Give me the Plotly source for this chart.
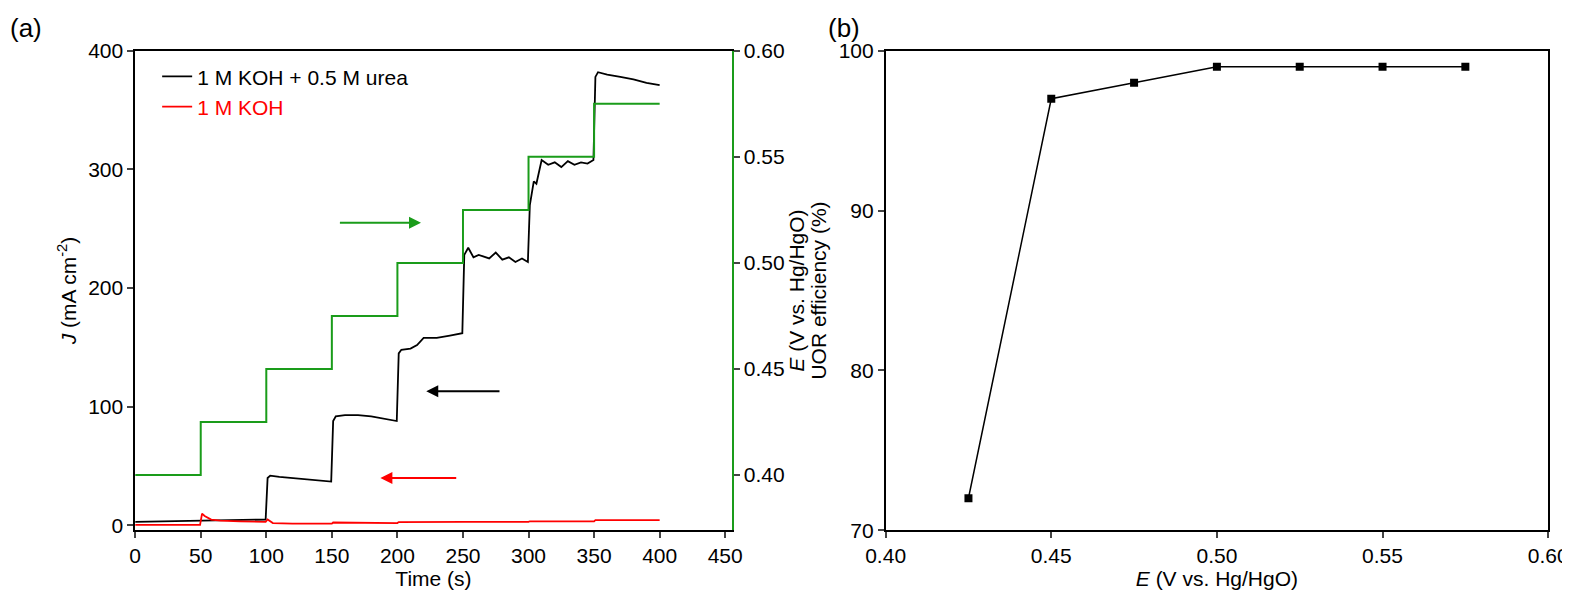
import plotly.graph_objects as go

# panel (a) data
t_urea = [0, 20, 40, 60, 80, 99.5, 101, 103, 110, 120, 130, 140, 149.5, 151, 153, 160, 170, 180, 190, 199.5, 201, 203, 210, 215, 220, 230, 240, 249.5,
          251, 254, 258, 262, 270, 275, 280, 285, 290, 295, 299.5, 301, 304, 306, 310, 315, 320, 325, 330, 335, 340, 345, 349.5, 351, 353, 360, 370, 380, 390, 400]
j_urea = [3, 3.5, 4, 4, 4.5, 5, 40, 42, 41, 40, 39, 38, 37, 88, 92, 93, 93, 92, 90, 88, 145, 148, 149, 152, 158, 158, 160, 162,
          228, 234, 226, 228, 225, 230, 224, 226, 222, 225, 222, 270, 290, 288, 308, 304, 306, 302, 307, 304, 306, 305, 308, 378, 382, 380, 378, 376, 373, 371]
t_koh = [0, 49.5, 51, 53, 58, 65, 80, 99.5, 101, 105, 120, 150, 151, 200, 201, 250, 251, 300, 301, 350, 351, 400]
j_koh = [0.5, 0.5, 10, 8, 5, 4, 3.5, 3, 5, 2, 1.5, 1.5, 2.5, 2, 2.8, 2.5, 3, 3, 3.5, 3.5, 4.5, 4.5]
t_step = [0, 50, 100, 150, 200, 250, 300, 350, 400]
e_step = [0.400, 0.425, 0.450, 0.475, 0.500, 0.525, 0.550, 0.575, 0.575]

# panel (b) data
e_uor = [0.425, 0.45, 0.475, 0.50, 0.525, 0.55, 0.575]
eff_uor = [72, 97, 98, 99, 99, 99, 99]

GREEN = "#1a9c1a"
font = dict(family="Arial, Liberation Sans, sans-serif", size=21, color="black")

fig = go.Figure()
fig.add_trace(go.Scatter(x=t_urea, y=j_urea, mode="lines", line=dict(color="black", width=1.8),
                         name="1 M KOH + 0.5 M urea", xaxis="x", yaxis="y"))
fig.add_trace(go.Scatter(x=t_koh, y=j_koh, mode="lines", line=dict(color="red", width=1.8),
                         name="<span style='color:red'>1 M KOH</span>", xaxis="x", yaxis="y"))
fig.add_trace(go.Scatter(x=t_step, y=e_step, mode="lines", line=dict(color=GREEN, width=2, shape="hv"),
                         showlegend=False, xaxis="x", yaxis="y2"))
fig.add_trace(go.Scatter(x=e_uor, y=eff_uor, mode="lines+markers", line=dict(color="black", width=1.5),
                         marker=dict(symbol="square", size=8, color="black"),
                         showlegend=False, xaxis="x3", yaxis="y3"))

ax = dict(showline=True, linewidth=1.5, linecolor="black", ticks="outside", ticklen=6, tickwidth=1.5,
          showgrid=False, zeroline=False, tickfont=font, mirror=True, automargin=False)
fig.update_layout(
    width=1570, height=603, margin=dict(l=0, r=0, t=0, b=0),
    plot_bgcolor="white", paper_bgcolor="white", font=font,
    xaxis=dict(ax, domain=[0.081, 0.461], range=[0, 455], dtick=50, anchor="y",
               title=dict(text="Time (s)", font=font, standoff=2)),
    yaxis=dict(ax, domain=[0.134, 0.929], range=[-4, 400], dtick=100, mirror=False,
               title=dict(text="<i>J</i> (mA cm<sup>-2</sup>)", font=font, standoff=6)),
    yaxis2=dict(ax, overlaying="y", side="right", anchor="x", range=[0.374, 0.60], dtick=0.05,
                tickformat=".2f", linecolor=GREEN, mirror=False,
                title=dict(text="<i>E</i> (V vs. Hg/HgO)", font=font, standoff=4)),
    xaxis3=dict(ax, domain=[0.559, 0.981], range=[0.40, 0.60], dtick=0.05, tickformat=".2f", anchor="y3",
                title=dict(text="<i>E</i> (V vs. Hg/HgO)", font=font, standoff=2)),
    yaxis3=dict(ax, domain=[0.134, 0.929], range=[70, 100], dtick=10, anchor="x3",
                title=dict(text="UOR efficiency (%)", font=font, standoff=6)),
    legend=dict(x=0.095, y=0.92, xanchor="left", yanchor="top", bgcolor="rgba(0,0,0,0)", font=font),
)

# arrows in panel (a)
for (x0, x1, yv, c) in [(155, 218, 255, GREEN), (279, 222, 113, "black"), (246, 187, 40, "red")]:
    fig.add_annotation(x=x1, y=yv, ax=x0, ay=yv, xref="x", yref="y", axref="x", ayref="y",
                       showarrow=True, arrowhead=2, arrowsize=1.2, arrowwidth=2, arrowcolor=c, text="")

fig.add_annotation(text="(a)", x=0.0, y=0.995, xref="paper", yref="paper", showarrow=False,
                   xanchor="left", yanchor="top", font=dict(family=font["family"], size=26))
fig.add_annotation(text="(b)", x=0.521, y=0.995, xref="paper", yref="paper", showarrow=False,
                   xanchor="left", yanchor="top", font=dict(family=font["family"], size=26))

fig.write_html("out.html")
